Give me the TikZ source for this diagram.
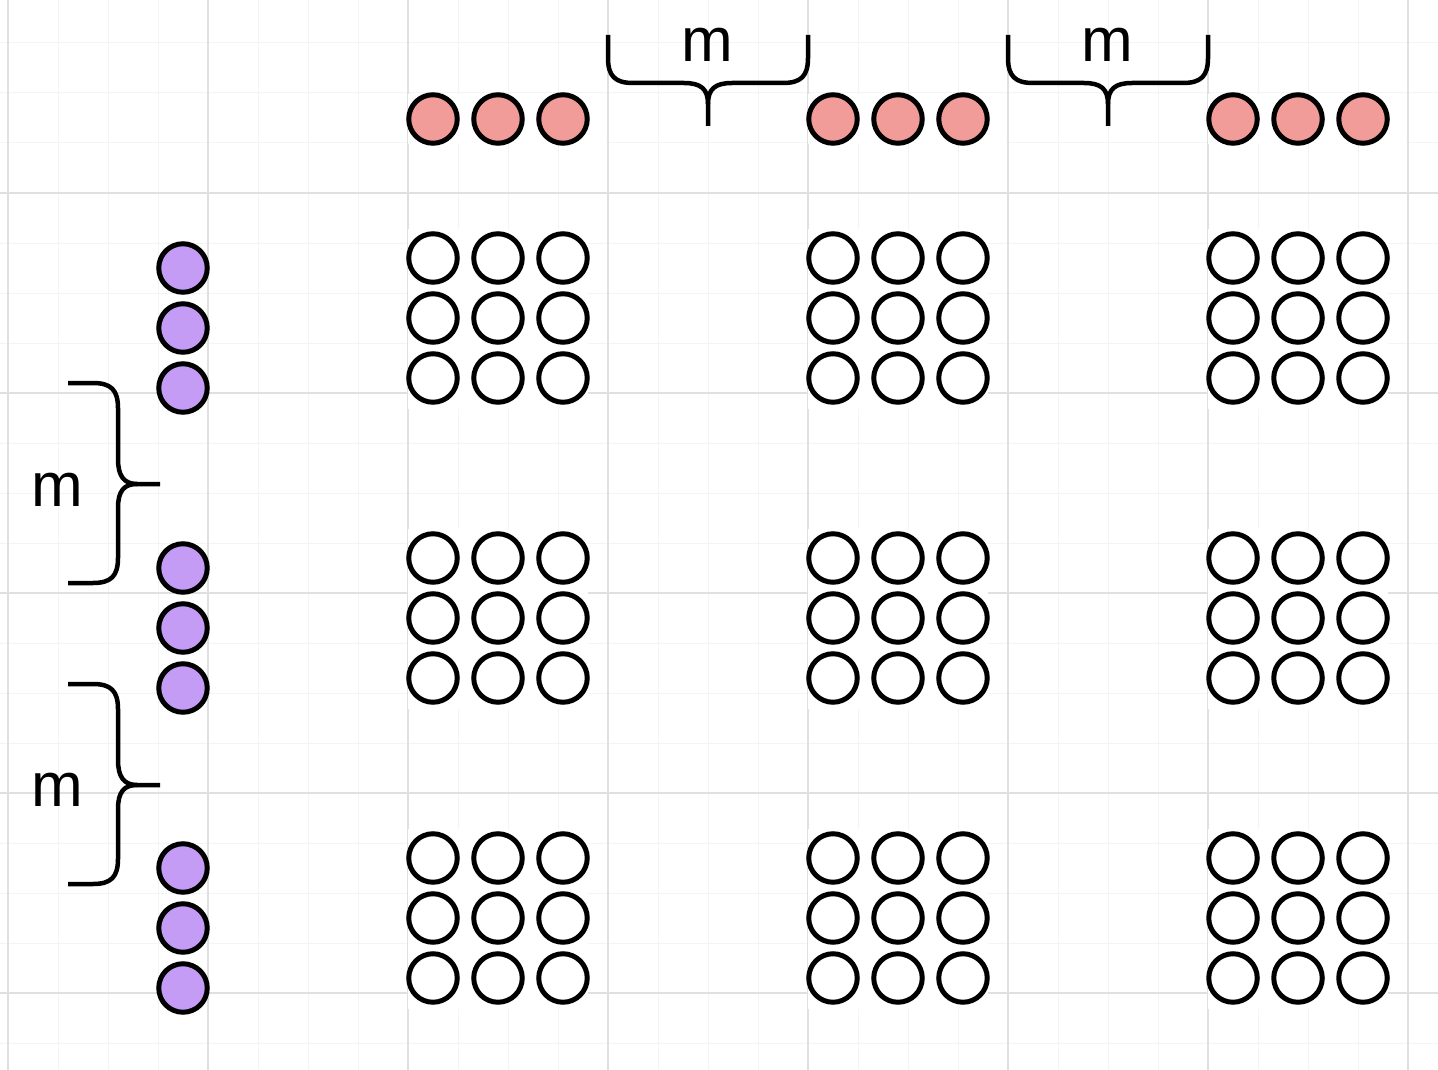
\documentclass[tikz,border=0pt]{standalone}
\usepackage{fontspec}
\setmainfont{Liberation Sans}
\definecolor{redfill}{HTML}{F19C99}
\definecolor{purplefill}{HTML}{C59CF5}
\definecolor{gridmajor}{HTML}{E0E0E0}
\definecolor{gridminor}{HTML}{F4F4F4}
\begin{document}
\begin{tikzpicture}[x=1pt,y=-1pt,
  dot/.style={circle, draw=black, line width=5pt, minimum size=48.5pt, inner sep=0pt, fill=white},
  reddot/.style={dot, fill=redfill},
  purpledot/.style={dot, fill=purplefill},
  bracepath/.style={draw=black, line width=4.5pt, line join=round},
  mlabel/.style={anchor=base, inner sep=0pt, font=\fontsize{62}{62}\selectfont},
  minorline/.style={draw=gridminor, line width=1pt},
  majorline/.style={draw=gridmajor, line width=1.5pt}]
\useasboundingbox (0,0) rectangle (1438,1070);
\fill[white] (0,0) rectangle (1438,1070);
% grid
\foreach \xx in {8,58,...,1408} \draw[minorline] (\xx,0) -- (\xx,1070);
\foreach \yy in {43,93,...,1043} \draw[minorline] (0,\yy) -- (1438,\yy);
\foreach \xx in {8,208,...,1408} \draw[majorline] (\xx,0) -- (\xx,1070);
\foreach \yy in {193,393,...,993} \draw[majorline] (0,\yy) -- (1438,\yy);
% white backgrounds of the groups
\foreach \gx in {0,400,800} {
  \fill[white] (408+\gx,94) rectangle (606+\gx,144);
  \foreach \gy in {0,300,600}
    \fill[white] (408+\gx,229+\gy) rectangle (588+\gx,409+\gy);
}
% red circles
\foreach \g/\gx in {1/433,2/833,3/1233}
  \foreach \i in {0,1,2}
    \node[reddot] (r-\g-\i) at (\gx+65*\i,119) {};
% purple circles
\foreach \g/\gy in {1/268,2/568,3/868}
  \foreach \i in {0,1,2}
    \node[purpledot] (p-\g-\i) at (183,\gy+60*\i) {};
% white circles
\foreach \a/\gx in {1/433,2/833,3/1233}
  \foreach \b/\gy in {1/258,2/558,3/858}
    \foreach \i in {0,1,2}
      \foreach \j in {0,1,2}
        \node[dot] (w-\a-\b-\i-\j) at (\gx+65*\i,\gy+60*\j) {};
% top braces
\foreach \bx in {608,1008} {
  \draw[bracepath] (\bx,35) -- (\bx,58) .. controls (\bx,76) and (\bx+7,83) .. (\bx+25,83)
    -- (\bx+76,83) .. controls (\bx+93,83) and (\bx+100,89) .. (\bx+100,104) -- (\bx+100,126);
  \draw[bracepath] (\bx+100,104) .. controls (\bx+100,89) and (\bx+107,83) .. (\bx+124,83)
    -- (\bx+175,83) .. controls (\bx+193,83) and (\bx+200,76) .. (\bx+200,58) -- (\bx+200,35);
}
\node[mlabel] (mtop1) at (707,62) {m};
\node[mlabel] (mtop2) at (1107,62) {m};
% left braces
\foreach \by in {383,684} {
  \draw[bracepath] (68,\by) -- (93,\by) .. controls (111,\by) and (118,\by+7) .. (118,\by+25)
    -- (118,\by+76) .. controls (118,\by+93) and (124,\by+101) .. (137,\by+101) -- (160,\by+101);
  \draw[bracepath] (137,\by+101) .. controls (124,\by+101) and (118,\by+108) .. (118,\by+125)
    -- (118,\by+175) .. controls (118,\by+193) and (111,\by+200) .. (93,\by+200) -- (68,\by+200);
}
\node[mlabel] (mleft1) at (57,506) {m};
\node[mlabel] (mleft2) at (57,806) {m};
\end{tikzpicture}
\end{document}
